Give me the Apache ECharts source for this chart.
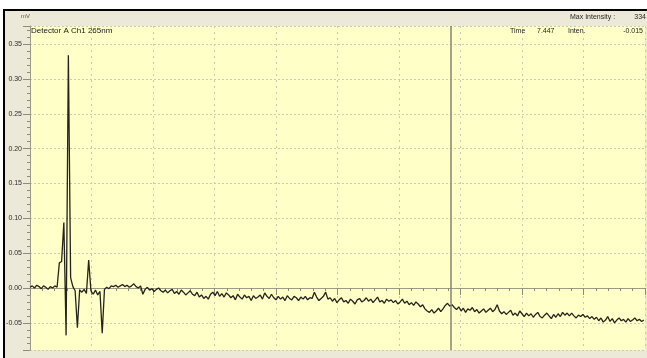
<!DOCTYPE html>
<html>
<head>
<meta charset="utf-8">
<title>Detector A Ch1 265nm</title>
<script src="https://cdn.jsdelivr.net/npm/echarts@6/dist/echarts.min.js"></script>
<style>
  html, body { margin: 0; padding: 0; background: #ffffff; }
  #chart { width: 647px; height: 358px; }
</style>
</head>
<body>
<div id="chart"></div>
<script>
// Acquisition: one sample every 0.04 min starting at 0 min
const timeStart = 0;
const timeStep = 0.04;

// Detector signal in microvolts (µV), one value per sample
const signalUV = [
  1, 3, 0, 4, 2, -1, 3, 1, -2, 2,
  0, 3, 1, 36, 38, 94, -68, 334, 15, 2,
  -4, -57, -3, -6, -2, -8, 40, -4, -9, -3,
  -10, -5, -65, -2, 1, -1, 3, 2, 4, 1,
  3, 5, 2, 4, 1, 3, 6, 2, 0, 3,
  -9, -2, 1, -3, -1, -5, -2, 0, -4, -6,
  -3, -7, -4, -2, -8, -5, -9, -3, -6, -10,
  -7, -4, -9, -11, -6, -13, -10, -15, -12, -16,
  -9, -6, -11, -5, -12, -8, -13, -7, -10, -14,
  -11, -17, -9, -13, -16, -10, -14, -12, -18, -11,
  -15, -13, -10, -16, -7, -12, -15, -9, -14, -17,
  -12, -16, -13, -18, -11, -15, -17, -12, -14, -18,
  -13, -16, -12, -17, -14, -15, -6, -13, -18, -15,
  -12, -6, -16, -14, -19, -15, -21, -17, -14, -20,
  -18, -22, -16, -19, -23, -17, -15, -20, -18, -14,
  -19, -16, -21, -17, -13, -20, -18, -22, -16, -19,
  -17, -21, -18, -23, -20, -16, -22, -19, -24, -21,
  -25, -20, -23, -27, -24, -30, -33, -35, -31, -36,
  -33, -29, -34, -30, -25, -22, -26, -24, -28, -31,
  -27, -33, -29, -35, -30, -32, -28, -34, -31, -36,
  -33, -30, -35, -32, -29, -34, -31, -24, -33, -37,
  -34, -38, -35, -32, -39, -36, -40, -33, -37, -41,
  -36, -40, -37, -42, -38, -35, -41, -43, -39, -36,
  -40, -44, -38, -42, -37, -41, -35, -39, -36, -40,
  -36, -40, -43, -39, -41, -38, -42, -40, -44, -41,
  -45, -42, -47, -43, -49, -46, -41, -48, -44, -50,
  -46, -43, -47, -45, -49, -44, -48, -46, -43, -47,
  -45, -48, -46
];

// Cursor readout and header values
const cursorTime = 7.447;
const cursorInten = '-0.015';
const maxIntensity = '334';
const detectorName = 'Detector A Ch1 265nm';
const yUnit = 'mV';

// Axis ranges
const timeMin = 0;
const timeMax = 10.9;
const timeGrid = 1.09;
const signalMin = -0.089;
const signalMax = 0.376;

const points = signalUV.map((v, i) => [
  +(timeStart + i * timeStep).toFixed(3),
  v / 1000
]);

const FONT = '"Liberation Sans", Arial, sans-serif';
const TEXT = '#262626';
const chart = echarts.init(document.getElementById('chart'), null, { renderer: 'canvas' });

chart.setOption({
  animation: false,
  backgroundColor: '#ffffff',
  graphic: [
    {
      type: 'rect',
      z: -10,
      shape: { x: 4, y: 10, width: 700, height: 400 },
      style: { fill: '#ECE9D8', stroke: '#000000', lineWidth: 2 }
    },
    {
      type: 'text', left: 21, top: 13,
      style: { text: yUnit, fontSize: 6, fill: '#555555', fontFamily: FONT }
    },
    {
      type: 'text', left: 31, top: 27, z: 10,
      style: { text: detectorName, fontSize: 8, fill: '#1a1a1a', fontFamily: FONT }
    },
    {
      type: 'text', left: 570, top: 14,
      style: { text: 'Max Intensity :', fontSize: 7, fill: TEXT, fontFamily: FONT }
    },
    {
      type: 'text', right: 1, top: 14,
      style: { text: maxIntensity, fontSize: 7, fill: TEXT, fontFamily: FONT }
    },
    {
      type: 'text', left: 510, top: 28, z: 10,
      style: { text: 'Time', fontSize: 7, fill: TEXT, fontFamily: FONT }
    },
    {
      type: 'text', left: 537, top: 28, z: 10,
      style: { text: cursorTime.toFixed(3), fontSize: 7, fill: TEXT, fontFamily: FONT }
    },
    {
      type: 'text', left: 568, top: 28, z: 10,
      style: { text: 'Inten.', fontSize: 7, fill: TEXT, fontFamily: FONT }
    },
    {
      type: 'text', right: 4, top: 28, z: 10,
      style: { text: cursorInten, fontSize: 7, fill: TEXT, fontFamily: FONT }
    }
  ],
  grid: {
    left: 30, right: 2, top: 26, bottom: 8,
    show: true,
    backgroundColor: '#FFFFC8',
    borderWidth: 0
  },
  xAxis: {
    type: 'value',
    min: timeMin,
    max: timeMax,
    interval: timeGrid,
    axisLine: { show: true, lineStyle: { color: '#9c9c86', width: 1 } },
    axisTick: { show: true, length: 7, lineStyle: { color: '#8c8c78' } },
    minorTick: { show: true, splitNumber: 5, length: 3, lineStyle: { color: '#8c8c78' } },
    axisLabel: { show: false },
    splitLine: { show: true, lineStyle: { color: '#cbcbb0', type: [2, 4], width: 1 } }
  },
  yAxis: {
    type: 'value',
    min: signalMin,
    max: signalMax,
    splitNumber: 9,
    axisLine: { show: true, lineStyle: { color: '#9c9c86', width: 1 } },
    axisTick: { show: true, length: 7, lineStyle: { color: '#8c8c78' } },
    minorTick: { show: true, splitNumber: 5, length: 3, lineStyle: { color: '#8c8c78' } },
    axisLabel: {
      fontSize: 7, color: '#2e2e2e', fontFamily: FONT, margin: 8,
      showMinLabel: false, showMaxLabel: false,
      formatter: v => v.toFixed(2)
    },
    splitLine: { show: true, lineStyle: { color: '#cbcbb0', type: [2, 2], width: 1 } }
  },
  series: [{
    type: 'line',
    data: points,
    showSymbol: false,
    symbol: 'none',
    clip: true,
    lineStyle: { color: '#24241c', width: 1.3 },
    markLine: {
      silent: true,
      symbol: ['none', 'none'],
      label: { show: false },
      lineStyle: { type: 'solid', color: '#858574', width: 1.5 },
      data: [{ xAxis: cursorTime }]
    }
  }]
});
</script>
</body>
</html>
